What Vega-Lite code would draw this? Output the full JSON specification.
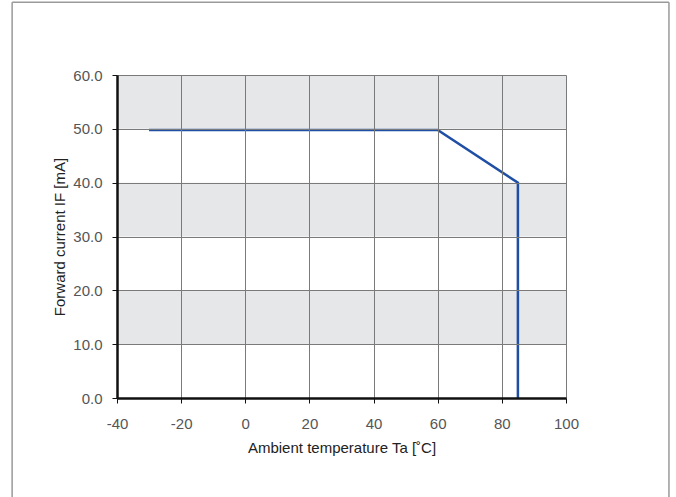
{
  "$schema": "https://vega.github.io/schema/vega-lite/v6.json",
  "width": 449,
  "height": 323,
  "autosize": {"type": "none"},
  "padding": {"left": 117, "top": 75, "right": 110, "bottom": 99},
  "background": "white",
  "config": {
    "view": {"stroke": null},
    "font": "Liberation Sans",
    "axis": {
      "grid": true,
      "labelFlush": false,
      "domainColor": "#111111",
      "domainWidth": 2.5,
      "tickColor": "#111111",
      "tickWidth": 1,
      "tickSize": 5,
      "gridColor": "#7a7a7a",
      "gridWidth": 1,
      "labelFont": "Liberation Sans",
      "labelFontSize": 15,
      "labelColor": "#555555",
      "titleFont": "Liberation Sans",
      "titleFontSize": 15,
      "titleFontWeight": "normal",
      "titleColor": "#222222"
    }
  },
  "datasets": {
    "bands": [
      {"lo": 50, "hi": 60},
      {"lo": 30, "hi": 40},
      {"lo": 10, "hi": 20}
    ],
    "curve": [
      {"t": -30, "i": 49.8, "o": 1},
      {"t": 60, "i": 49.8, "o": 2},
      {"t": 85, "i": 40, "o": 3},
      {"t": 85, "i": 0, "o": 4}
    ],
    "frame": [
      {"l": -72.7, "r": 132.1, "top": 73.5, "bot": -25}
    ]
  },
  "encoding": {
    "x": {
      "type": "quantitative",
      "scale": {"domain": [-40, 100], "nice": false, "zero": false},
      "axis": {
        "grid": true,
        "zindex": 1,
        "values": [-40, -20, 0, 20, 40, 60, 80, 100],
        "labelExpr": "datum.value < 0 ? '-' + abs(datum.value) : '' + datum.value",
        "labelPadding": 13,
        "titlePadding": 9,
        "title": "Ambient temperature Ta [˚C]"
      }
    },
    "y": {
      "type": "quantitative",
      "scale": {"domain": [0, 60], "nice": false, "zero": false},
      "axis": {
        "grid": true,
        "zindex": 1,
        "values": [0, 10, 20, 30, 40, 50, 60],
        "format": ".1f",
        "labelPadding": 10,
        "titlePadding": 5,
        "title": "Forward current IF [mA]"
      }
    }
  },
  "layer": [
    {
      "data": {"name": "bands"},
      "mark": {"type": "rect", "fill": "#e6e7e9"},
      "encoding": {
        "x": {"datum": -40, "type": "quantitative"},
        "x2": {"datum": 100},
        "y": {"field": "lo", "type": "quantitative"},
        "y2": {"field": "hi"}
      }
    },
    {
      "data": {"name": "curve"},
      "mark": {"type": "line", "color": "#1f4fa5", "strokeWidth": 2.5, "strokeJoin": "miter"},
      "encoding": {
        "x": {"field": "t", "type": "quantitative"},
        "y": {"field": "i", "type": "quantitative"},
        "order": {"field": "o"}
      }
    },
    {
      "data": {"name": "frame"},
      "mark": {"type": "rule", "color": "#9a9a9a", "strokeWidth": 1.5, "clip": false},
      "encoding": {
        "x": {"field": "l", "type": "quantitative"},
        "y": {"field": "top", "type": "quantitative"},
        "y2": {"field": "bot"}
      }
    },
    {
      "data": {"name": "frame"},
      "mark": {"type": "rule", "color": "#9a9a9a", "strokeWidth": 1.5, "clip": false},
      "encoding": {
        "x": {"field": "r", "type": "quantitative"},
        "y": {"field": "top", "type": "quantitative"},
        "y2": {"field": "bot"}
      }
    },
    {
      "data": {"name": "frame"},
      "mark": {"type": "rule", "color": "#9a9a9a", "strokeWidth": 1.5, "clip": false},
      "encoding": {
        "x": {"field": "l", "type": "quantitative"},
        "x2": {"field": "r"},
        "y": {"field": "top", "type": "quantitative"}
      }
    }
  ]
}
